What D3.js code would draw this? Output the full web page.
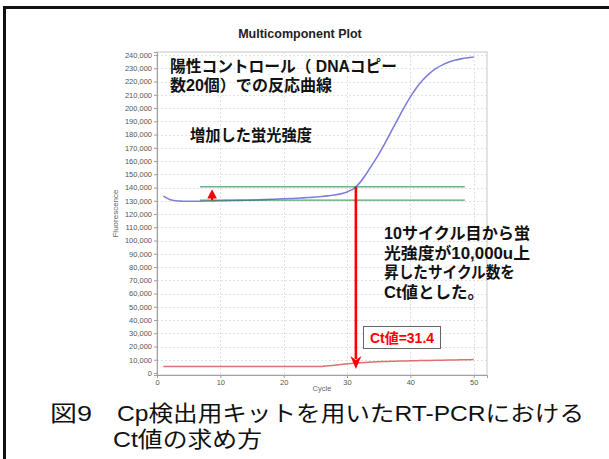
<!DOCTYPE html>
<html><head><meta charset="utf-8">
<script src="https://cdn.jsdelivr.net/npm/d3@7"></script>
<style>html,body{margin:0;padding:0;background:#fff;overflow:hidden}</style>
</head><body>
<script>
// Amplification cycles
const cycles = [1,2,3,4,5,6,7,8,9,10,11,12,13,14,15,16,17,18,19,20,21,22,23,24,25,
                26,27,28,29,30,31,32,33,34,35,36,37,38,39,40,41,42,43,44,45,46,47,48,49,50];
// Reporter fluorescence of the positive control (20 DNA copies)
const positiveControl = [133500,131000,130000,129700,129600,129600,129700,129800,129900,130000,
                         130100,130200,130300,130400,130500,130700,130900,131100,131300,131500,
                         131700,131900,132200,132500,132800,133200,133700,134300,135200,136700,
                         139000,143500,150000,157500,165000,173500,182500,191500,200300,208400,
                         215500,221300,226000,229700,232400,234500,236000,237100,237900,238500];
// Second dye component
const secondDye = [5000,5000,5000,5000,5000,5000,5000,5000,5000,5000,
                   5000,5000,5000,5000,5000,5000,5000,5000,5000,5000,
                   5000,5000,5000,5000,5000,5000,5400,5900,6400,6900,
                   7300,7700,8000,8300,8500,8700,8900,9000,9100,9200,
                   9300,9400,9500,9600,9700,9800,9900,10000,10100,10200];
const yTicks = [0,10000,20000,30000,40000,50000,60000,70000,80000,90000,100000,110000,120000,
                130000,140000,150000,160000,170000,180000,190000,200000,210000,220000,230000,240000];
const xTicks = [0,10,20,30,40,50];
const baselineLevel = 130500;     // fluorescence at the start of the rise
const thresholdLevel = 140500;    // baseline + 10,000
const ctValue = 31.4;
const riseMarkerCycle = 8.7;
const thresholdSpan = [6.8, 48.6];

const W = 609, H = 459;
// Latin face first so line boxes stay compact; Japanese glyphs come from Noto CJK
const jp = "'Liberation Sans', 'Noto Sans CJK JP', sans-serif";
const sans = "'Liberation Sans', Arial, sans-serif";

const svg = d3.select("body").append("svg").attr("width", W).attr("height", H);
svg.append("rect").attr("width", W).attr("height", H).attr("fill", "#fff");

// figure frame (top and left rules)
svg.append("rect").attr("x", 3).attr("y", 6).attr("width", W - 3).attr("height", 3).attr("fill", "#111");
svg.append("rect").attr("x", 3).attr("y", 6).attr("width", 3).attr("height", H - 6).attr("fill", "#111");

const L = 157, R = 487, T = 52, B = 375;
const x = d3.scaleLinear().domain([0, 52.1]).range([L, R]);
const y = d3.scaleLinear().domain([-1500, 242300]).range([B, T]);

// grid
const grid = svg.append("g").attr("stroke", "#e2e2e2").attr("stroke-width", 1).attr("stroke-dasharray", "2,2");
grid.selectAll(".h").data(yTicks.filter(d => d > 0)).join("line")
  .attr("x1", L).attr("x2", R).attr("y1", d => Math.round(y(d)) + 0.5).attr("y2", d => Math.round(y(d)) + 0.5);
grid.selectAll(".v").data(xTicks.filter(d => d > 0)).join("line")
  .attr("y1", T).attr("y2", B).attr("x1", d => Math.round(x(d)) + 0.5).attr("x2", d => Math.round(x(d)) + 0.5);

svg.append("rect").attr("x", L).attr("y", T).attr("width", R - L).attr("height", B - T)
  .attr("fill", "none").attr("stroke", "#dadada").attr("stroke-width", 1.5);

// axes
const yAxis = svg.append("g").attr("transform", `translate(${L},0)`)
  .call(d3.axisLeft(y).tickValues(yTicks).tickFormat(d3.format(",")).tickSize(3).tickPadding(2));
const xAxis = svg.append("g").attr("transform", `translate(0,${B})`)
  .call(d3.axisBottom(x).tickValues(xTicks).tickSize(3).tickPadding(2));
[yAxis, xAxis].forEach(a => {
  a.selectAll("path").attr("stroke", "#a0a0a0");
  a.selectAll("line").attr("stroke", "#a0a0a0");
  a.selectAll("text").attr("fill", "#555").style("font-family", sans).style("font-size", "7.5px");
});

svg.append("text").attr("transform", `translate(118,${(T + B) / 2}) rotate(-90)`)
  .attr("text-anchor", "middle").attr("fill", "#666").style("font-family", sans).style("font-size", "8px")
  .text("Fluorescence");
svg.append("text").attr("x", (L + R) / 2).attr("y", 391).attr("text-anchor", "middle")
  .attr("fill", "#666").style("font-family", sans).style("font-size", "7.5px").text("Cycle");

svg.append("text").attr("x", 300).attr("y", 38).attr("text-anchor", "middle")
  .attr("fill", "#222").style("font-family", sans).style("font-size", "12.5px").style("font-weight", "bold")
  .text("Multicomponent Plot");

// curves
const line = d3.line().x(d => x(d[0])).y(d => y(d[1])).curve(d3.curveMonotoneX);
svg.append("path").datum(cycles.map((c, i) => [c, secondDye[i]]))
  .attr("d", line).attr("fill", "none").attr("stroke", "#e07070").attr("stroke-width", 1.5);
svg.append("path").datum(cycles.map((c, i) => [c, positiveControl[i]]))
  .attr("d", line).attr("fill", "none").attr("stroke", "#7f7fdc").attr("stroke-width", 1.6);

// baseline and threshold
svg.selectAll(".thr").data([baselineLevel, thresholdLevel]).join("line")
  .attr("x1", x(thresholdSpan[0])).attr("x2", x(thresholdSpan[1]))
  .attr("y1", d => y(d)).attr("y2", d => y(d))
  .attr("stroke", "#2b8a45").attr("stroke-width", 1);

// rise marker (small up arrow)
const mx = x(riseMarkerCycle), myB = y(baselineLevel), myT = y(thresholdLevel);
svg.append("line").attr("x1", mx).attr("x2", mx).attr("y1", myB).attr("y2", myT + 6)
  .attr("stroke", "red").attr("stroke-width", 2.2);
svg.append("path").attr("fill", "red")
  .attr("d", `M${mx},${myT + 2.5} L${mx - 4.8},${myB - 1.5} L${mx + 4.8},${myB - 1.5} Z`);

// Ct arrow
const cx = x(ctValue), tipY = y(0) - 4;
svg.append("line").attr("x1", cx).attr("x2", cx).attr("y1", y(thresholdLevel)).attr("y2", tipY - 10)
  .attr("stroke", "red").attr("stroke-width", 2.6);
svg.append("path").attr("fill", "red")
  .attr("d", `M${cx},${tipY} L${cx - 5.5},${tipY - 13} L${cx},${tipY - 9} L${cx + 5.5},${tipY - 13} Z`);

// multi-line text block: one <text>, one <tspan> per line
function block(tx, ty, lines, lh, size, weight, widths) {
  const t = svg.append("text").attr("fill", "#111")
    .style("font-family", jp).style("font-size", size + "px").style("font-weight", weight);
  lines.forEach((s, i) => {
    const sp = t.append("tspan").attr("x", tx[i] ?? tx[0]).attr("y", ty + i * lh).text(s);
    if (widths && widths[i]) sp.attr("textLength", widths[i]).attr("lengthAdjust", "spacingAndGlyphs");
  });
  return t;
}

block([170], 72, ["陽性コントロール（ DNAコピー", "数20個）での反応曲線"], 19, 16, "bold", [227, 162]);
block([190], 141, ["増加した蛍光強度"], 0, 16, "bold", [122]);
block([384], 239, ["10サイクル目から蛍", "光強度が10,000u上", "昇したサイクル数を", "Ct値とした。"], 19.7, 16, "bold",
      [146, 146, 131, 100]);

svg.append("rect").attr("x", 363.5).attr("y", 326.5).attr("width", 77).attr("height", 22)
  .attr("fill", "#fff").attr("stroke", "#666").attr("stroke-width", 1);
svg.append("text").attr("x", 402).attr("y", 343).attr("text-anchor", "middle")
  .attr("fill", "#f00").style("font-family", jp).style("font-size", "14px").style("font-weight", "bold")
  .text("Ct値=" + ctValue);

// caption: figure number, title and its second line in one block
const caption = svg.append("text").attr("fill", "#111")
  .style("font-family", jp).style("font-size", "22px");
caption.append("tspan").attr("x", 50).attr("y", 421).attr("textLength", 42)
  .attr("lengthAdjust", "spacingAndGlyphs").text("図9");
caption.append("tspan").attr("x", 117).attr("y", 421).attr("textLength", 467)
  .attr("lengthAdjust", "spacingAndGlyphs").text("Cp検出用キットを用いたRT-PCRにおける");
caption.append("tspan").attr("x", 113).attr("y", 447).attr("textLength", 149)
  .attr("lengthAdjust", "spacingAndGlyphs").text("Ct値の求め方");
</script>
</body></html>
